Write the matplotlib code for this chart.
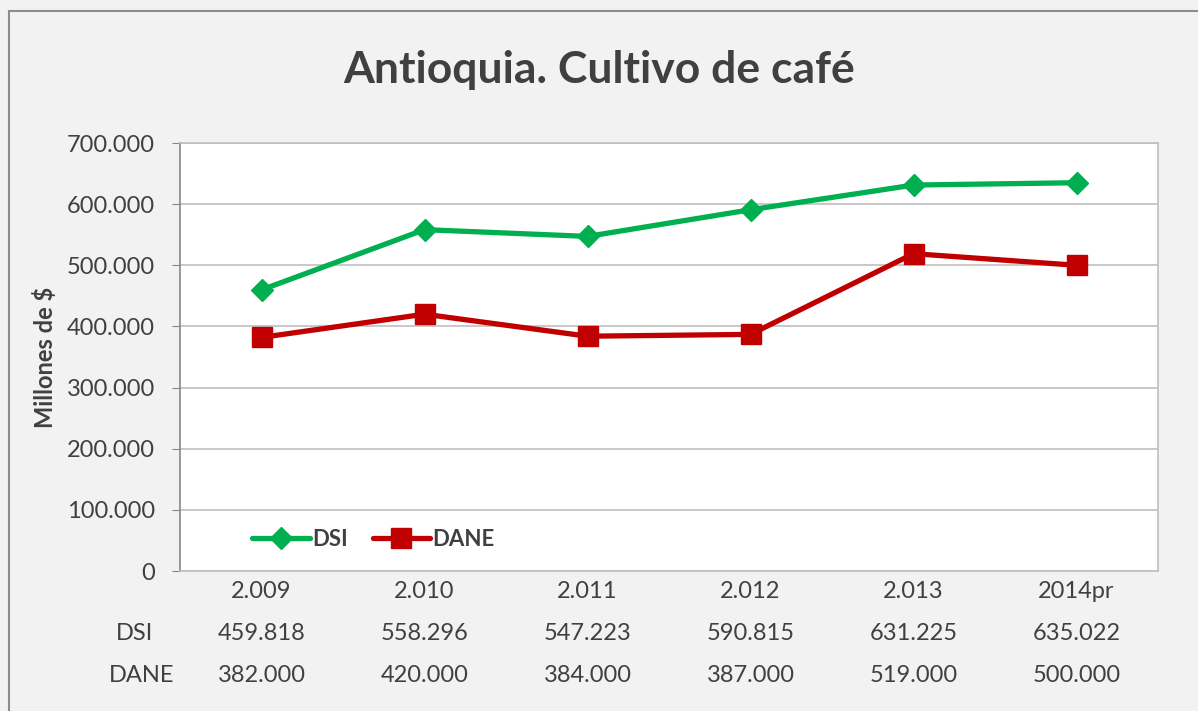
import matplotlib
matplotlib.use("Agg")
import matplotlib.pyplot as plt
from matplotlib.patches import Rectangle

categories = ["2.009", "2.010", "2.011", "2.012", "2.013", "2014pr"]
dsi = [459818, 558296, 547223, 590815, 631225, 635022]
dane = [382000, 420000, 384000, 387000, 519000, 500000]
dsi_labels = ["459.818", "558.296", "547.223", "590.815", "631.225", "635.022"]
dane_labels = ["382.000", "420.000", "384.000", "387.000", "519.000", "500.000"]
yticks = [0, 100000, 200000, 300000, 400000, 500000, 600000, 700000]
ytick_labels = ["0", "100.000", "200.000", "300.000", "400.000", "500.000", "600.000", "700.000"]

plt.rcParams['font.family'] = ['Lato', 'DejaVu Sans']
txt = '#404040'
fs = 17
W, H = 1198, 711
fig = plt.figure(figsize=(W/100, H/100), dpi=100)
fig.patch.set_facecolor('#f2f2f2')
fig.patches.append(Rectangle((9/W, -0.1), 1.2, 1 - 11/H + 0.1, transform=fig.transFigure,
                             fill=False, edgecolor='#8c8c8c', linewidth=1.5))

ax = fig.add_axes([180/W, 1 - 571/H, (1158-180)/W, (571-143)/H])
ax.set_facecolor('white')
x = list(range(len(categories)))
ax.plot(x, dsi, color='#00b050', lw=3.8, marker='D', ms=11, label='DSI', solid_capstyle='round')
ax.plot(x, dane, color='#c00000', lw=3.8, marker='s', ms=14, label='DANE', solid_capstyle='round')
ax.set_xlim(-0.5, 5.5)
ax.set_ylim(0, 700000)
ax.set_yticks(yticks)
ax.set_yticklabels(ytick_labels, fontsize=fs, color=txt)
ax.set_xticks([])
ax.grid(axis='y', color='#bfbfbf', lw=1.2)
ax.set_axisbelow(True)
for s in ['top', 'right', 'bottom']:
    ax.spines[s].set_color('#bfbfbf')
    ax.spines[s].set_linewidth(1.2)
ax.spines['left'].set_color('#868686')
ax.spines['left'].set_linewidth(1.2)
ax.tick_params(axis='y', length=6, color='#868686', pad=12)
ax.set_ylabel('Millones de $', fontsize=fs, fontweight='bold', color=txt)
ax.yaxis.set_label_coords((57 - 180) / (1158 - 180), 0.5)

leg = ax.legend(loc='center left', bbox_to_anchor=(0.065, (571 - 539) / (571 - 143)), ncol=2,
                frameon=False, prop={'size': 16, 'weight': 'bold'}, handlelength=2.6,
                columnspacing=1.1, handletextpad=0.1, labelcolor=txt, borderaxespad=0)

fig.text(0.5, 1 - 70/H, 'Antioquia. Cultivo de café', ha='center', va='center',
         fontsize=32, fontweight='bold', color=txt)

# data table
trans = ax.get_xaxis_transform()
rows_y = [592, 633, 675]
rows = [categories, dsi_labels, dane_labels]
for r, labels in zip(rows_y, rows):
    for i, c in enumerate(labels):
        ax.text(i, 1 - (r - 143) / (571 - 143), c, transform=trans, ha='center', va='center',
                fontsize=fs, color=txt, clip_on=False)
fig.text(135/W, 1 - rows_y[1]/H, 'DSI', ha='center', va='center', fontsize=fs, color=txt)
fig.text(142/W, 1 - rows_y[2]/H, 'DANE', ha='center', va='center', fontsize=fs, color=txt)

fig.savefig('out.png', dpi=100, facecolor=fig.get_facecolor())
